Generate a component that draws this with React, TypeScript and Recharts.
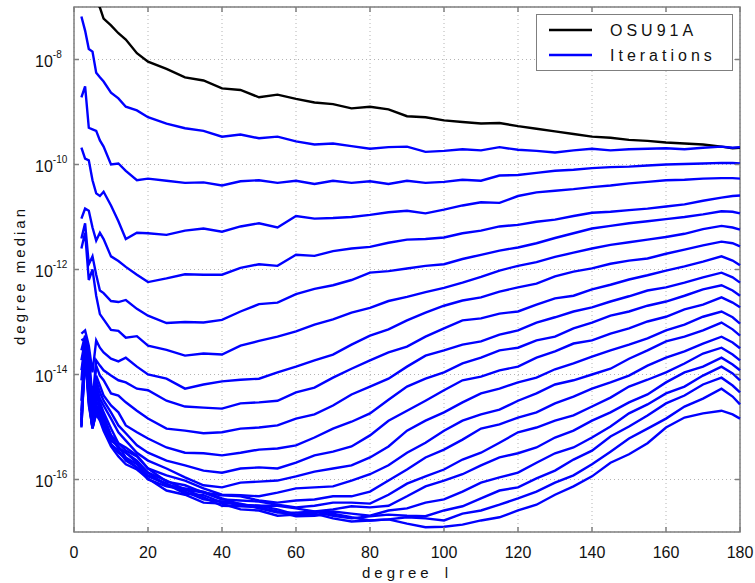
import { CartesianGrid, Legend, Line, LineChart, ReferenceArea, XAxis, YAxis } from "recharts";

// degree l sampled along the x axis
const degrees = [2, 3, 4, 5, 6, 7, 8, 10, 12, 14, 17, 20, 25, 30, 35, 40, 45, 50, 55, 60, 65, 70, 75, 80, 85, 90, 95, 100, 105, 110, 115, 120, 125, 130, 135, 140, 145, 150, 155, 160, 165, 170, 175, 178, 180];

// log10 of the degree median, one value per degree above
const osu91a = [-6.2, -6.4, -6.6, -6.75, -6.9, -7.01, -7.22, -7.35, -7.5, -7.62, -7.88, -8.04, -8.18, -8.34, -8.4, -8.55, -8.58, -8.72, -8.67, -8.75, -8.82, -8.85, -8.93, -8.9, -8.95, -9.08, -9.1, -9.16, -9.19, -9.22, -9.21, -9.27, -9.32, -9.37, -9.42, -9.47, -9.49, -9.53, -9.55, -9.58, -9.6, -9.62, -9.66, -9.69, -9.68];

const iter01 = [-7.18, -7.45, -7.8, -7.85, -8.25, -8.34, -8.42, -8.63, -8.74, -8.9, -8.97, -9.1, -9.22, -9.31, -9.36, -9.47, -9.43, -9.5, -9.47, -9.56, -9.62, -9.6, -9.65, -9.7, -9.67, -9.66, -9.76, -9.74, -9.71, -9.73, -9.67, -9.72, -9.74, -9.77, -9.73, -9.7, -9.73, -9.71, -9.7, -9.69, -9.71, -9.68, -9.66, -9.68, -9.67];
const iter02 = [-8.72, -8.51, -9.3, -9.33, -9.36, -9.54, -9.66, -10.0, -9.98, -10.12, -10.3, -10.27, -10.31, -10.35, -10.34, -10.4, -10.32, -10.3, -10.35, -10.31, -10.37, -10.31, -10.35, -10.32, -10.37, -10.31, -10.35, -10.33, -10.29, -10.31, -10.21, -10.2, -10.16, -10.12, -10.1, -10.07, -10.05, -10.04, -10.02, -10.0, -9.99, -9.98, -9.97, -9.97, -9.98];
const iter03 = [-9.68, -9.89, -9.92, -10.3, -10.55, -10.6, -10.52, -10.78, -11.08, -11.42, -11.3, -11.31, -11.34, -11.26, -11.22, -11.28, -11.18, -11.12, -11.2, -10.98, -11.03, -11.02, -11.0, -10.96, -10.91, -10.88, -10.93, -10.86, -10.78, -10.72, -10.73, -10.6, -10.53, -10.5, -10.47, -10.43, -10.4, -10.36, -10.33, -10.3, -10.29, -10.27, -10.26, -10.26, -10.27];
const iter04 = [-11.03, -10.84, -10.88, -11.2, -11.45, -11.3, -11.42, -11.75, -11.84, -11.95, -12.1, -12.24, -12.17, -12.09, -12.1, -12.1, -11.97, -11.9, -11.93, -11.72, -11.74, -11.65, -11.6, -11.57, -11.49, -11.43, -11.42, -11.39, -11.31, -11.26, -11.18, -11.15, -11.09, -11.05, -10.98, -10.92, -10.9, -10.87, -10.84, -10.8, -10.76, -10.69, -10.63, -10.6, -10.59];
const iter05 = [-11.41, -11.12, -11.9, -11.75, -12.1, -12.4, -12.45, -12.6, -12.62, -12.58, -12.75, -12.88, -13.02, -13.0, -13.01, -12.96, -12.8, -12.66, -12.63, -12.47, -12.37, -12.3, -12.2, -12.06, -12.03, -11.98, -11.93, -11.9, -11.8, -11.72, -11.64, -11.58, -11.5, -11.4, -11.31, -11.22, -11.17, -11.12, -11.08, -11.04, -11.0, -10.95, -10.89, -10.9, -10.93];
const iter06 = [-11.6, -11.3, -12.2, -12.0, -12.5, -12.85, -12.95, -13.15, -13.17, -13.3, -13.27, -13.45, -13.53, -13.64, -13.6, -13.62, -13.45, -13.36, -13.28, -13.18, -13.05, -12.95, -12.82, -12.73, -12.6, -12.52, -12.43, -12.35, -12.25, -12.14, -12.02, -11.93, -11.86, -11.76, -11.68, -11.6, -11.53, -11.48, -11.43, -11.38, -11.32, -11.23, -11.17, -11.2, -11.24];
const iter07 = [-13.22, -13.16, -13.45, -13.96, -13.35, -13.49, -13.58, -13.7, -13.75, -13.68, -13.85, -14.0, -14.08, -14.27, -14.19, -14.13, -14.1, -14.08, -13.96, -13.85, -13.73, -13.62, -13.43, -13.26, -13.14, -12.97, -12.82, -12.69, -12.59, -12.53, -12.42, -12.34, -12.27, -12.13, -12.04, -11.98, -11.89, -11.83, -11.79, -11.7, -11.62, -11.54, -11.47, -11.5, -11.56];
const iter08 = [-13.35, -13.31, -13.58, -14.5, -13.73, -13.83, -13.92, -14.02, -14.11, -14.15, -14.27, -14.3, -14.5, -14.61, -14.63, -14.65, -14.55, -14.53, -14.5, -14.34, -14.25, -14.06, -13.89, -13.73, -13.58, -13.47, -13.28, -13.12, -12.97, -12.93, -12.84, -12.8, -12.67, -12.55, -12.5, -12.38, -12.29, -12.19, -12.11, -12.02, -11.94, -11.85, -11.75, -11.83, -11.92];
const iter09 = [-13.54, -13.26, -13.73, -14.69, -13.83, -14.02, -14.11, -14.36, -14.4, -14.53, -14.69, -14.84, -15.03, -15.07, -15.12, -15.1, -15.03, -15.01, -14.97, -14.84, -14.76, -14.59, -14.38, -14.23, -14.08, -13.85, -13.64, -13.54, -13.43, -13.37, -13.24, -13.16, -13.01, -12.91, -12.8, -12.72, -12.61, -12.51, -12.4, -12.34, -12.25, -12.15, -12.06, -12.15, -12.25];
const iter10 = [-13.73, -13.35, -13.83, -14.78, -14.02, -14.21, -14.4, -14.59, -14.72, -14.97, -15.1, -15.22, -15.39, -15.49, -15.5, -15.54, -15.49, -15.43, -15.41, -15.35, -15.2, -15.03, -14.9, -14.74, -14.48, -14.23, -14.08, -13.96, -13.79, -13.68, -13.54, -13.49, -13.35, -13.28, -13.12, -13.01, -12.88, -12.8, -12.69, -12.61, -12.5, -12.38, -12.3, -12.4, -12.5];
const iter11 = [-13.92, -13.45, -13.96, -14.88, -14.11, -14.34, -14.5, -14.72, -14.97, -15.12, -15.35, -15.49, -15.64, -15.73, -15.83, -15.87, -15.79, -15.77, -15.79, -15.68, -15.54, -15.47, -15.37, -15.16, -14.88, -14.69, -14.5, -14.3, -14.11, -14.04, -13.92, -13.85, -13.68, -13.56, -13.41, -13.35, -13.22, -13.12, -12.99, -12.9, -12.76, -12.67, -12.53, -12.63, -12.72];
const iter12 = [-14.11, -13.31, -14.11, -14.91, -14.21, -14.46, -14.59, -14.84, -15.1, -15.26, -15.49, -15.64, -15.79, -15.96, -16.11, -16.15, -16.06, -16.04, -16.02, -15.94, -15.85, -15.79, -15.73, -15.58, -15.37, -15.07, -14.88, -14.72, -14.53, -14.36, -14.27, -14.15, -14.06, -13.9, -13.79, -13.66, -13.54, -13.43, -13.31, -13.16, -13.05, -12.9, -12.8, -12.91, -13.03];
const iter13 = [-14.5, -13.45, -14.21, -14.97, -14.3, -14.53, -14.72, -15.03, -15.31, -15.39, -15.54, -15.79, -15.92, -16.02, -16.17, -16.29, -16.3, -16.32, -16.25, -16.17, -16.15, -16.13, -16.02, -15.9, -15.73, -15.49, -15.3, -15.07, -14.88, -14.76, -14.67, -14.5, -14.36, -14.19, -14.11, -14.0, -13.89, -13.7, -13.54, -13.37, -13.28, -13.16, -13.01, -13.14, -13.26];
const iter14 = [-14.69, -13.54, -14.3, -15.01, -14.4, -14.59, -14.78, -15.16, -15.31, -15.45, -15.56, -15.79, -16.04, -16.11, -16.25, -16.3, -16.32, -16.4, -16.44, -16.4, -16.38, -16.32, -16.32, -16.23, -16.02, -15.81, -15.58, -15.43, -15.24, -15.03, -14.95, -14.82, -14.72, -14.55, -14.42, -14.27, -14.15, -14.02, -13.83, -13.68, -13.56, -13.41, -13.28, -13.39, -13.5];
const iter15 = [-14.78, -13.64, -14.34, -14.99, -14.5, -14.65, -14.84, -15.16, -15.41, -15.49, -15.64, -15.87, -16.02, -16.19, -16.25, -16.38, -16.4, -16.42, -16.48, -16.53, -16.5, -16.44, -16.44, -16.46, -16.29, -16.08, -15.94, -15.81, -15.62, -15.49, -15.3, -15.1, -15.01, -14.88, -14.78, -14.61, -14.44, -14.23, -14.1, -13.96, -13.79, -13.6, -13.49, -13.62, -13.73];
const iter16 = [-14.88, -13.73, -14.4, -14.97, -14.59, -14.69, -14.88, -15.2, -15.39, -15.49, -15.68, -15.87, -16.11, -16.17, -16.23, -16.36, -16.48, -16.5, -16.5, -16.55, -16.61, -16.57, -16.51, -16.53, -16.5, -16.32, -16.13, -16.02, -15.9, -15.73, -15.58, -15.5, -15.39, -15.2, -15.07, -14.88, -14.72, -14.53, -14.38, -14.15, -13.96, -13.85, -13.68, -13.81, -13.92];
const iter17 = [-14.91, -13.35, -14.46, -15.01, -14.65, -14.74, -14.93, -15.26, -15.37, -15.58, -15.71, -15.94, -16.09, -16.27, -16.3, -16.44, -16.48, -16.5, -16.57, -16.67, -16.63, -16.61, -16.65, -16.69, -16.59, -16.55, -16.44, -16.38, -16.23, -16.06, -15.96, -15.87, -15.68, -15.5, -15.39, -15.2, -14.99, -14.74, -14.57, -14.36, -14.23, -14.02, -13.85, -13.98, -14.11];
const iter18 = [-14.97, -13.45, -14.5, -15.03, -14.69, -14.78, -14.97, -15.33, -15.49, -15.6, -15.77, -15.92, -16.08, -16.23, -16.38, -16.42, -16.46, -16.55, -16.63, -16.63, -16.61, -16.69, -16.74, -16.7, -16.67, -16.69, -16.7, -16.59, -16.51, -16.36, -16.21, -16.15, -15.98, -15.83, -15.62, -15.45, -15.18, -14.99, -14.78, -14.55, -14.4, -14.19, -14.06, -14.21, -14.34];
const iter19 = [-15.01, -13.54, -14.53, -15.03, -14.72, -14.84, -15.03, -15.33, -15.45, -15.64, -15.77, -16.0, -16.13, -16.19, -16.34, -16.5, -16.51, -16.53, -16.61, -16.7, -16.69, -16.65, -16.72, -16.78, -16.76, -16.72, -16.74, -16.78, -16.65, -16.59, -16.48, -16.36, -16.23, -16.06, -15.92, -15.71, -15.47, -15.22, -15.03, -14.84, -14.61, -14.46, -14.27, -14.42, -14.57];
const iter20 = [-14.99, -13.64, -14.59, -15.01, -14.76, -14.88, -15.07, -15.37, -15.56, -15.71, -15.81, -15.98, -16.21, -16.29, -16.44, -16.46, -16.57, -16.59, -16.69, -16.67, -16.65, -16.74, -16.8, -16.78, -16.76, -16.84, -16.91, -16.9, -16.86, -16.78, -16.72, -16.59, -16.48, -16.29, -16.13, -15.94, -15.68, -15.52, -15.31, -15.01, -14.82, -14.74, -14.69, -14.76, -14.84];

const iterations = [iter01, iter02, iter03, iter04, iter05, iter06, iter07, iter08, iter09, iter10, iter11, iter12, iter13, iter14, iter15, iter16, iter17, iter18, iter19, iter20];

const xTicks = [0, 20, 40, 60, 80, 100, 120, 140, 160, 180];
const yTicks = [1e-16, 1e-14, 1e-12, 1e-10, 1e-8];

const legendItems = [
  { label: "OSU91A", color: "#000000" },
  { label: "Iterations", color: "#0000ff" },
];

const rows = degrees.map((deg, i) => {
  const row: Record<string, number> = { deg, osu: 10 ** osu91a[i] };
  iterations.forEach((series, k) => {
    row[`it${k + 1}`] = 10 ** series[i];
  });
  return row;
});

const FONT = "'Liberation Sans', Arial, sans-serif";
const AXIS = "#7f7f7f";
const PLOT_W = 666;
const PLOT_H = 525;

function DegreeTick({ x, y, payload }: any) {
  return (
    <g>
      <line x1={x} y1={y} x2={x} y2={y - 5} stroke={AXIS} strokeWidth={1.5} />
      <line x1={x} y1={y - PLOT_H} x2={x} y2={y - PLOT_H + 5} stroke={AXIS} strokeWidth={1.5} />
      <text x={x} y={y + 26} textAnchor="middle" fontSize={16} fontFamily={FONT} fill="#111">
        {payload.value}
      </text>
    </g>
  );
}

function MedianTick({ x, y, payload }: any) {
  const exponent = Math.round(Math.log10(payload.value));
  return (
    <g>
      <line x1={x} y1={y} x2={x + 5} y2={y} stroke={AXIS} strokeWidth={1.5} />
      <line x1={x + PLOT_W} y1={y} x2={x + PLOT_W - 5} y2={y} stroke={AXIS} strokeWidth={1.5} />
      <text x={x - 39} y={y + 7} fontSize={16} fontFamily={FONT} fill="#111">
        10
        <tspan dy={-9} fontSize={10}>
          {exponent}
        </tspan>
      </text>
    </g>
  );
}

function YTitle({ viewBox }: any) {
  const cx = viewBox.x + 19;
  const cy = viewBox.y + viewBox.height / 2 + 6;
  return (
    <text
      x={cx}
      y={cy}
      transform={`rotate(-90, ${cx}, ${cy})`}
      textAnchor="middle"
      dominantBaseline="central"
      fontSize={15}
      letterSpacing={3}
      fontFamily={FONT}
      fill="#111"
    >
      degree median
    </text>
  );
}

function XTitle({ viewBox }: any) {
  const cx = viewBox.x + viewBox.width / 2;
  return (
    <text x={cx} y={viewBox.y + 46} textAnchor="middle" fontSize={15} letterSpacing={4} fontFamily={FONT} fill="#111">
      degree
      <tspan dx={12}>l</tspan>
    </text>
  );
}

function LegendBox() {
  return (
    <svg width={197} height={57} style={{ display: "block" }}>
      <rect x={0.5} y={0.5} width={196} height={56} fill="#fff" stroke={AXIS} strokeWidth={1} />
      {legendItems.map((item, i) => (
        <g key={item.label}>
          <line x1={13} x2={56} y1={16 + i * 25} y2={16 + i * 25} stroke={item.color} strokeWidth={2.5} />
          <text x={74} y={22 + i * 25} fontSize={16} letterSpacing={4} fontFamily={FONT} fill="#111">
            {item.label}
          </text>
        </g>
      ))}
    </svg>
  );
}

export default function App() {
  return (
    <div style={{ position: "absolute", left: 0, top: 0, width: 755, height: 583, background: "#fff" }}>
      <LineChart width={755} height={583} data={rows} margin={{ top: 7, right: 15, bottom: 0, left: 0 }}>
        <CartesianGrid stroke="#b4b4b4" strokeDasharray="1 3" />
        <XAxis
          dataKey="deg"
          type="number"
          domain={[0, 180]}
          ticks={xTicks}
          interval={0}
          height={51}
          tickSize={0}
          tickMargin={0}
          axisLine={false}
          tickLine={false}
          tick={<DegreeTick />}
          label={<XTitle />}
        />
        <YAxis
          scale="log"
          type="number"
          domain={[1e-17, 1e-7]}
          allowDataOverflow
          ticks={yTicks}
          interval={0}
          width={74}
          tickSize={0}
          tickMargin={0}
          axisLine={false}
          tickLine={false}
          tick={<MedianTick />}
          label={<YTitle />}
        />
        <Line dataKey="osu" stroke="#000000" strokeWidth={2.4} dot={false} isAnimationActive={false} />
        {iterations.map((_, k) => (
          <Line
            key={k}
            dataKey={`it${k + 1}`}
            stroke="#0000ff"
            strokeWidth={2.4}
            dot={false}
            isAnimationActive={false}
          />
        ))}
        <ReferenceArea x1={0} x2={180} y1={1e-17} y2={1e-7} fill="none" stroke={AXIS} strokeWidth={1.5} />
        <Legend
          verticalAlign="middle"
          align="center"
          wrapperStyle={{ position: "absolute", left: 536, top: 14, width: 197, height: 57 }}
          content={<LegendBox />}
        />
      </LineChart>
    </div>
  );
}
